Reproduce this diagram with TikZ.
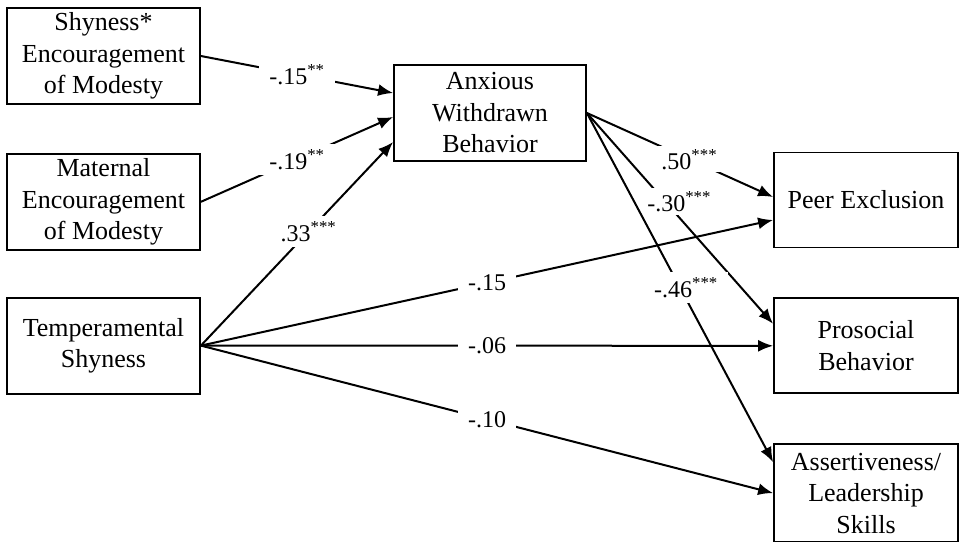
\documentclass[tikz,border=0pt]{standalone}
\usepackage{fontspec}
\setmainfont{Liberation Serif}
\usetikzlibrary{arrows.meta,positioning}

\begin{document}
\begin{tikzpicture}[
  x=1pt, y=-1pt,
  box/.style={draw, line width=1.8pt, align=center, inner sep=2pt,
    font=\fontsize{26}{31.5}\selectfont},
  arr/.style={-{Latex[length=15pt,width=12pt]}, line width=2pt},
  coef/.style={fill=white, inner xsep=10pt, inner ysep=5pt,
    font=\fontsize{24}{28}\selectfont}
]
\useasboundingbox (0,0) rectangle (963,541);
% predictors
\node[box, minimum width=193pt, minimum height=96pt] (shymod) at (103.5,56)
  {Shyness*\\Encouragement\\of Modesty};
\node[box, minimum width=193pt, minimum height=96pt, below=48pt of shymod] (matmod)
  {Maternal\\Encouragement\\of Modesty};
\node[box, minimum width=193pt, minimum height=96pt, below=46pt of matmod] (tempshy)
  {Temperamental\\Shyness};
% mediator
\node[box, minimum width=192pt, minimum height=96pt] (anxwd) at (490,113)
  {Anxious\\Withdrawn\\Behavior};
% outcomes
\node[box, minimum width=184pt, minimum height=95pt] (peerex) at (866,200)
  {Peer Exclusion};
\node[box, minimum width=184pt, minimum height=95pt, below=49pt of peerex] (prosoc)
  {Prosocial\\Behavior};
\node[box, minimum width=184pt, minimum height=98pt, below=49pt of prosoc] (assert)
  {Assertiveness/\\Leadership\\Skills};

% paths to the mediator
\draw[arr] (shymod.east) -- node[coef] {-.15\textsuperscript{**}} ([yshift=20pt]anxwd.west);
\draw[arr] (matmod.east) -- node[coef] {-.19\textsuperscript{**}} ([yshift=-4pt]anxwd.west);
\draw[arr] (tempshy.east) -- node[coef, pos=0.56] {.33\textsuperscript{***}} ([yshift=-29pt]anxwd.west);
% direct paths
\draw[arr] (tempshy.east) -- node[coef] {-.15} ([yshift=-20pt]peerex.west);
\draw[arr] (tempshy.east) -- node[coef] {-.06} (prosoc.west);
\draw[arr] (tempshy.east) -- node[coef] {-.10} (assert.west);
% paths from the mediator
\draw[arr] (anxwd.east) -- node[coef, inner ysep=3pt, pos=0.55] {.50\textsuperscript{***}} ([yshift=3pt]peerex.west);
\draw[arr] (anxwd.east) -- node[coef, inner ysep=3pt, xshift=14pt, pos=0.42] {-.30\textsuperscript{***}} ([yshift=22pt]prosoc.west);
\draw[arr] (anxwd.east) -- node[coef, xshift=6pt] {-.46\textsuperscript{***}} ([yshift=31pt]assert.west);
\end{tikzpicture}
\end{document}
